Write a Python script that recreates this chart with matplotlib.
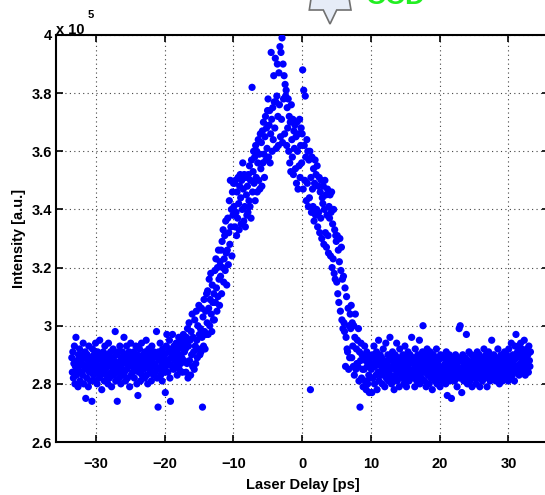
import numpy as np
import matplotlib.pyplot as plt
from matplotlib.patches import Polygon

# intensity in units of 1e3 counts, one sample per delay step of the scan
left_base = [
    289, 284, 291, 282, 287, 293, 280, 286, 296, 283, 288, 285, 279, 290, 286, 292, 281, 288, 284, 290,
    287, 283, 294, 280, 289, 285, 291, 275, 286, 282, 290, 288, 279, 293, 284, 287, 281, 289, 285, 274,
    292, 286, 283, 290, 281, 288, 294, 284, 287, 280, 291, 285, 289, 282, 295, 286, 283, 290, 278, 288,
    284, 291, 287, 281, 293, 285, 289, 283, 290, 286, 280, 294, 288, 282, 287, 291, 284, 279, 289, 286,
    292, 283, 288, 285, 298, 281, 290, 287, 274, 284, 291, 286, 282, 293, 288, 280, 289, 285, 291, 283,
    287, 296, 284, 290, 281, 288, 293, 285, 282, 289, 286, 291, 279, 287, 294, 283, 288, 290, 284, 286,
    291, 282, 289, 285, 293, 287, 280, 290, 276, 288, 284, 292, 286, 281, 289, 294, 283, 287, 290, 285,
    288, 282, 291, 286, 295, 283, 289, 280, 287, 292, 285, 290, 284, 288, 281, 293, 286, 289, 283, 291,
    287, 284, 290, 286, 298, 282, 289, 272, 291, 285, 288, 294, 283, 290, 286, 281, 292, 287, 289, 284,
    290, 277, 286, 293, 297, 288, 284, 291, 287, 295, 282, 274, 289, 292, 286, 297, 290, 285, 293, 288,
    291, 286, 294, 289, 283, 292, 288, 296, 285, 290, 293, 287, 295, 289, 284, 292, 297, 288, 291, 294,
]
rise = [
    292, 284, 296, 287, 299, 282, 293, 301, 288, 295, 283, 298, 290, 304, 286, 296, 291, 285, 302, 293,
    287, 305, 295, 289, 300, 292, 307, 297, 290,
    299, 291, 306, 296, 272, 303, 293, 309, 298, 292, 305, 297, 311,
    301, 312, 297, 306, 316, 300, 309, 318, 304, 298, 314, 308, 302,
    311, 302, 319, 308, 323, 313, 305, 320, 310, 326, 316, 307, 322,
    317, 326, 311, 329, 320, 333, 315, 323, 331, 319, 336, 325, 314,
    326, 337, 321, 332, 343, 328, 350, 334, 340, 324, 346, 338, 349,
    341, 349, 334, 350, 339, 331, 346, 337, 351, 342, 333, 348, 352,
    344, 335, 350, 340, 356, 347, 336, 352, 341, 334, 351, 345, 338,
    348, 339, 352, 343, 355, 341, 350, 337, 357, 382, 346, 353, 360,
    349, 358, 343, 362, 351, 360, 346, 356, 364, 350, 359, 347, 366,
    354, 363, 348, 367, 356, 370, 359, 351, 365, 372, 357, 368, 361, 374,
]
peak = [
    378, 358, 369, 374, 356, 366, 394, 371, 360, 375, 364, 386, 377,
    368, 392, 377, 361, 379, 390, 372, 362, 387, 376, 396, 365, 394,
    371, 399, 363, 390, 378, 386, 366, 383, 379, 381, 362, 375, 368,
    378, 360, 372, 356, 370, 353, 376, 364, 358, 371, 352, 367, 361,
    369, 354, 365, 349, 370, 360, 347, 366, 355, 371, 351, 362, 368,
    356, 366, 388, 347, 381, 362, 350, 379, 358, 343, 364, 349, 360, 341,
    357, 344, 360, 278, 351, 339, 358, 347, 341, 354, 336, 349, 357, 338,
]
fall = [
    352, 340, 355, 334, 348, 339, 351, 332, 346, 337, 350, 330, 344,
    342, 348, 328, 340, 350, 332, 345, 327, 338, 347, 331, 325, 341,
    337, 345, 324, 339, 346, 320, 335, 323, 340, 318, 333, 316, 331,
    329, 315, 331, 311, 326, 308, 322, 330, 305, 319, 327, 302, 316, 299,
    317, 301, 298, 313, 286, 296, 310, 292, 291, 306, 285, 300, 289, 304,
    299, 307, 289, 301, 293, 286, 300, 283, 296, 304, 285, 292, 287,
    295, 286, 299, 281, 291, 272, 288, 294, 282, 290, 285, 279, 289,
    285, 293, 281, 288, 278, 291, 286, 280, 290, 283, 277, 287, 282, 289,
]
right_base = [
    285, 277, 290, 282, 287, 293, 280, 286, 289, 283, 291, 278, 288, 284, 295, 281, 287, 290, 283, 286,
    289, 280, 285, 292, 283, 288, 279, 286, 294, 282, 287, 284, 290, 281, 288, 285, 296, 283, 289, 280,
    286, 291, 282, 288, 278, 285, 290, 283, 287, 294, 281, 286, 289, 284, 279, 292, 285, 288, 282, 287,
    283, 290, 285, 280, 288, 293, 282, 286, 279, 289, 284, 291, 287, 281, 285, 290, 283, 288, 296, 284,
    287, 282, 289, 285, 279, 292, 284, 288, 281, 286, 290, 283, 287, 295, 280, 285, 289, 282, 286, 291,
    300, 284, 288, 281, 290, 285, 279, 287, 292, 283, 286, 289, 280, 285, 291, 282, 288, 284, 278, 287,
    290, 283, 286, 281, 289, 285, 292, 280, 287, 284, 288, 282, 286, 279, 290, 285, 283, 289, 281, 286,
    284, 289, 282, 287, 280, 291, 285, 276, 288, 283, 286, 290, 281, 287, 284, 275, 289, 282, 286, 283,
    288, 281, 285, 290, 283, 287, 279, 286, 289, 284, 299, 282, 300, 285, 288, 277, 283, 290, 286, 281,
    287, 284, 289, 282, 297, 285, 280, 288, 283, 291, 286, 281, 287, 284, 290, 279, 285, 288, 282, 286,
    283, 289, 285, 280, 288, 291, 282, 286, 284, 290, 279, 287, 283, 289, 285, 281, 288, 284, 292, 286,
    282, 287, 290, 284, 279, 288, 285, 291, 283, 286, 281, 289, 284, 295, 287, 282, 286, 290, 283, 288,
    285, 281, 289, 284, 287, 292, 282, 286, 280, 288, 285, 290, 283, 287, 281, 289, 284, 286, 291, 282,
    288, 284, 290, 283, 286, 281, 292, 287, 284, 289, 282, 294, 286, 283, 290, 285, 288, 281, 293, 286,
    297, 289, 284, 291, 286, 293, 283, 290, 287, 294, 285, 292, 288, 284, 291, 286, 295, 289, 283, 290,
    287, 292, 285, 290, 284, 293, 288, 286, 291,
]

scan_start, scan_stop = -33.5, 33.2   # delay range of the scan [ps]
yticks = [2.6, 2.8, 3.0, 3.2, 3.4, 3.6, 3.8, 4.0]
yticklabels = ["2.6", "2.8", "3", "3.2", "3.4", "3.6", "3.8", "4"]
xticks = [-30, -20, -10, 0, 10, 20, 30]

intensity = np.array(left_base + rise + peak + fall + right_base) / 100.0
delay = np.linspace(scan_start, scan_stop, len(intensity))

plt.rcParams['font.family'] = ['Liberation Sans', 'DejaVu Sans']
plt.rcParams['font.weight'] = 'bold'

W, H = 545, 495
fig = plt.figure(figsize=(W / 100, H / 100), dpi=100)
ax = fig.add_axes([56 / W, 53 / H, 493 / W, 407 / H])

ax.scatter(delay, intensity, s=27, c='#0000ff', edgecolors='none', zorder=3)

ax.set_xlim(-35.8, 35.9)
ax.set_ylim(2.6, 4.0)
ax.set_xticks(xticks)
ax.set_yticks(yticks)
ax.set_yticklabels(yticklabels)
ax.grid(True, linestyle=(0, (1, 3)), color='#444444', linewidth=0.8)
ax.tick_params(direction='in', top=True, right=True, length=5, width=1.2, labelsize=10.5)
ax.tick_params(axis='x', pad=11)
ax.tick_params(axis='y', pad=3)
for sp in ax.spines.values():
    sp.set_linewidth(1.5)

ax.set_xlabel("Laser Delay [ps]", fontsize=10.5, fontweight='bold', labelpad=5)
ax.set_ylabel("Intensity [a.u.]", fontsize=10.5, fontweight='bold', labelpad=4)

# exponent label like matlab
fig.text(56 / W, 1 - 34 / H, "x 10", fontsize=10.5, fontweight='bold', va='baseline')
fig.text(88 / W, 1 - 18 / H, "5", fontsize=8, fontweight='bold', va='baseline')

# pieces of the figure above the axes (cut off at the top)
arrow = [(311.7, -6), (309.3, 10), (323.3, 10), (330, 24), (336.7, 10), (351, 10), (348.3, -6)]
arrow = [(px / W, 1 - py / H) for px, py in arrow]
fig.patches.append(Polygon(arrow, closed=True, transform=fig.transFigure,
                           facecolor='#e6ecf7', edgecolor='#707070', linewidth=1.2))
fig.text(366 / W, 1 - 4 / H, "CCD", fontsize=20, fontweight='bold', color='#22ee22', va='baseline')

fig.savefig("out.png", dpi=100)
